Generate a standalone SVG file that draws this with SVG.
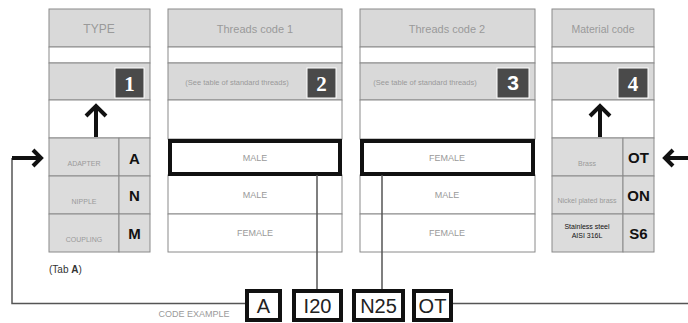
<svg xmlns="http://www.w3.org/2000/svg" width="688" height="323" viewBox="0 0 688 323">
<style>
.hdr{fill:#d9d9d9;stroke:#8a8a8a;stroke-width:1}
.wht{fill:#fff;stroke:#8a8a8a;stroke-width:1}
.gry{fill:#dcdcdc;stroke:#8a8a8a;stroke-width:1}
.lt{font-family:"Liberation Sans",Arial,sans-serif;fill:#9a9a9a;text-anchor:middle}
.code{font-family:"Liberation Sans",Arial,sans-serif;fill:#111;font-weight:bold;font-size:15px;text-anchor:middle}
.badge{fill:#4a4a4a;stroke:#fff;stroke-width:1}
.bt{font-family:"Liberation Serif","Times New Roman",serif;font-weight:bold;fill:#fff;font-size:21px;text-anchor:middle}
.bs{font-family:"Liberation Sans",Arial,sans-serif;font-weight:bold;fill:#fff;font-size:21px;text-anchor:middle}
.thick{fill:#fff;stroke:#111;stroke-width:4}
.arr{fill:none;stroke:#111;stroke-width:4;stroke-linecap:butt;stroke-linejoin:miter}
.ln{fill:none;stroke:#555;stroke-width:1.5}
.cb{font-family:"Liberation Sans",Arial,sans-serif;fill:#222;font-size:20px;text-anchor:middle}
</style>

<g id="type">
<rect class="hdr" x="49" y="9" width="101" height="38"/>
<rect class="wht" x="49" y="47" width="101" height="16"/>
<rect class="hdr" x="49" y="63" width="101" height="37"/>
<rect class="wht" x="49" y="100" width="101" height="38"/>
<rect class="gry" x="49" y="138" width="70" height="38"/>
<rect class="gry" x="119" y="138" width="31" height="38"/>
<rect class="gry" x="49" y="176" width="70" height="38"/>
<rect class="gry" x="119" y="176" width="31" height="38"/>
<rect class="gry" x="49" y="214" width="70" height="38"/>
<rect class="gry" x="119" y="214" width="31" height="38"/>
<text class="lt" x="99" y="33" font-size="12">TYPE</text>
<rect class="badge" x="115" y="68" width="29" height="30"/>
<text class="bt" x="129.5" y="91">1</text>
<path class="arr" d="M96 137 V106 M86 116 L96 106 L106 116"/>
<text class="lt" x="84" y="166" font-size="7">ADAPTER</text>
<text class="lt" x="84" y="204" font-size="7">NIPPLE</text>
<text class="lt" x="84" y="242" font-size="7">COUPLING</text>
<text class="code" x="134.5" y="164">A</text>
<text class="code" x="134.5" y="201">N</text>
<text class="code" x="134.5" y="239">M</text>
<text font-family="Liberation Sans,Arial,sans-serif" font-size="10" fill="#333" x="49" y="273">(Tab <tspan font-weight="bold">A</tspan>)</text>
</g>

<g id="threads1">
<rect class="hdr" x="168" y="9" width="174" height="38"/>
<rect class="wht" x="168" y="47" width="174" height="16"/>
<rect class="hdr" x="168" y="63" width="174" height="37"/>
<rect class="wht" x="168" y="100" width="174" height="39"/>
<rect class="wht" x="168" y="175" width="174" height="39"/>
<rect class="wht" x="168" y="214" width="174" height="38"/>
<rect class="thick" x="170" y="141" width="170" height="33"/>
<text class="lt" x="255" y="33" font-size="11">Threads code 1</text>
<text class="lt" x="237" y="85" font-size="7.5">(See table of standard threads)</text>
<rect class="badge" x="307" y="68" width="29" height="30"/>
<text class="bt" x="321.5" y="91">2</text>
<text class="lt" x="255" y="161" font-size="9">MALE</text>
<text class="lt" x="255" y="198" font-size="9">MALE</text>
<text class="lt" x="255" y="236" font-size="9">FEMALE</text>
</g>

<g id="threads2">
<rect class="hdr" x="360" y="9" width="175" height="38"/>
<rect class="wht" x="360" y="47" width="175" height="16"/>
<rect class="hdr" x="360" y="63" width="175" height="37"/>
<rect class="wht" x="360" y="100" width="175" height="39"/>
<rect class="wht" x="360" y="175" width="175" height="39"/>
<rect class="wht" x="360" y="214" width="175" height="38"/>
<rect class="thick" x="362" y="141" width="171" height="33"/>
<text class="lt" x="447" y="33" font-size="11">Threads code 2</text>
<text class="lt" x="425" y="85" font-size="7.5">(See table of standard threads)</text>
<rect class="badge" x="497" y="68" width="32" height="30"/>
<text class="bs" x="513" y="90">3</text>
<text class="lt" x="447" y="161" font-size="9">FEMALE</text>
<text class="lt" x="447" y="198" font-size="9">MALE</text>
<text class="lt" x="447" y="236" font-size="9">FEMALE</text>
</g>

<g id="material">
<rect class="hdr" x="552" y="9" width="102" height="38"/>
<rect class="wht" x="552" y="47" width="102" height="16"/>
<rect class="hdr" x="552" y="63" width="102" height="37"/>
<rect class="wht" x="552" y="100" width="102" height="38"/>
<rect class="gry" x="552" y="138" width="71" height="38"/>
<rect class="gry" x="623" y="138" width="31" height="38"/>
<rect class="gry" x="552" y="176" width="71" height="38"/>
<rect class="gry" x="623" y="176" width="31" height="38"/>
<rect class="gry" x="552" y="214" width="71" height="38"/>
<rect class="gry" x="623" y="214" width="31" height="38"/>
<text class="lt" x="603" y="33" font-size="10.5">Material code</text>
<rect class="badge" x="618" y="68" width="30" height="30"/>
<text class="bt" x="633" y="91">4</text>
<path class="arr" d="M600 137 V106 M590 116 L600 106 L610 116"/>
<text class="lt" x="587" y="166" font-size="7">Brass</text>
<text class="lt" x="587" y="203" font-size="7">Nickel plated brass</text>
<text x="587" y="229" font-size="7" font-family="Liberation Sans,Arial,sans-serif" fill="#111" text-anchor="middle">Stainless steel</text>
<text x="587" y="238" font-size="7" font-family="Liberation Sans,Arial,sans-serif" fill="#111" text-anchor="middle">AISI 316L</text>
<text class="code" x="638.5" y="163">OT</text>
<text class="code" x="638.5" y="201">ON</text>
<text class="code" x="638.5" y="239">S6</text>
</g>

<g id="code-example">
<text class="lt" x="194" y="317" font-size="9">CODE EXAMPLE</text>
<rect class="thick" x="247" y="291" width="33" height="29"/>
<text class="cb" x="263.5" y="313">A</text>
<rect class="thick" x="294" y="291" width="47" height="29"/>
<text class="cb" x="317.5" y="313">I20</text>
<rect class="thick" x="354" y="291" width="49" height="29"/>
<text class="cb" x="378.5" y="313">N25</text>
<rect class="thick" x="414" y="291" width="37" height="29"/>
<text class="cb" x="432.5" y="313">OT</text>
</g>

<g id="connectors">
<path class="ln" d="M12 158 V303.5 H245"/>
<path class="arr" d="M12 158 H40 M33 150 L41 158 L33 166"/>
<path class="ln" d="M317 175 V289"/>
<path class="ln" d="M382 175 V289"/>
<path class="ln" d="M453 303.5 H688"/>
<path class="arr" d="M688 158 H666 M673 150 L665 158 L673 166"/>
</g>
</svg>
